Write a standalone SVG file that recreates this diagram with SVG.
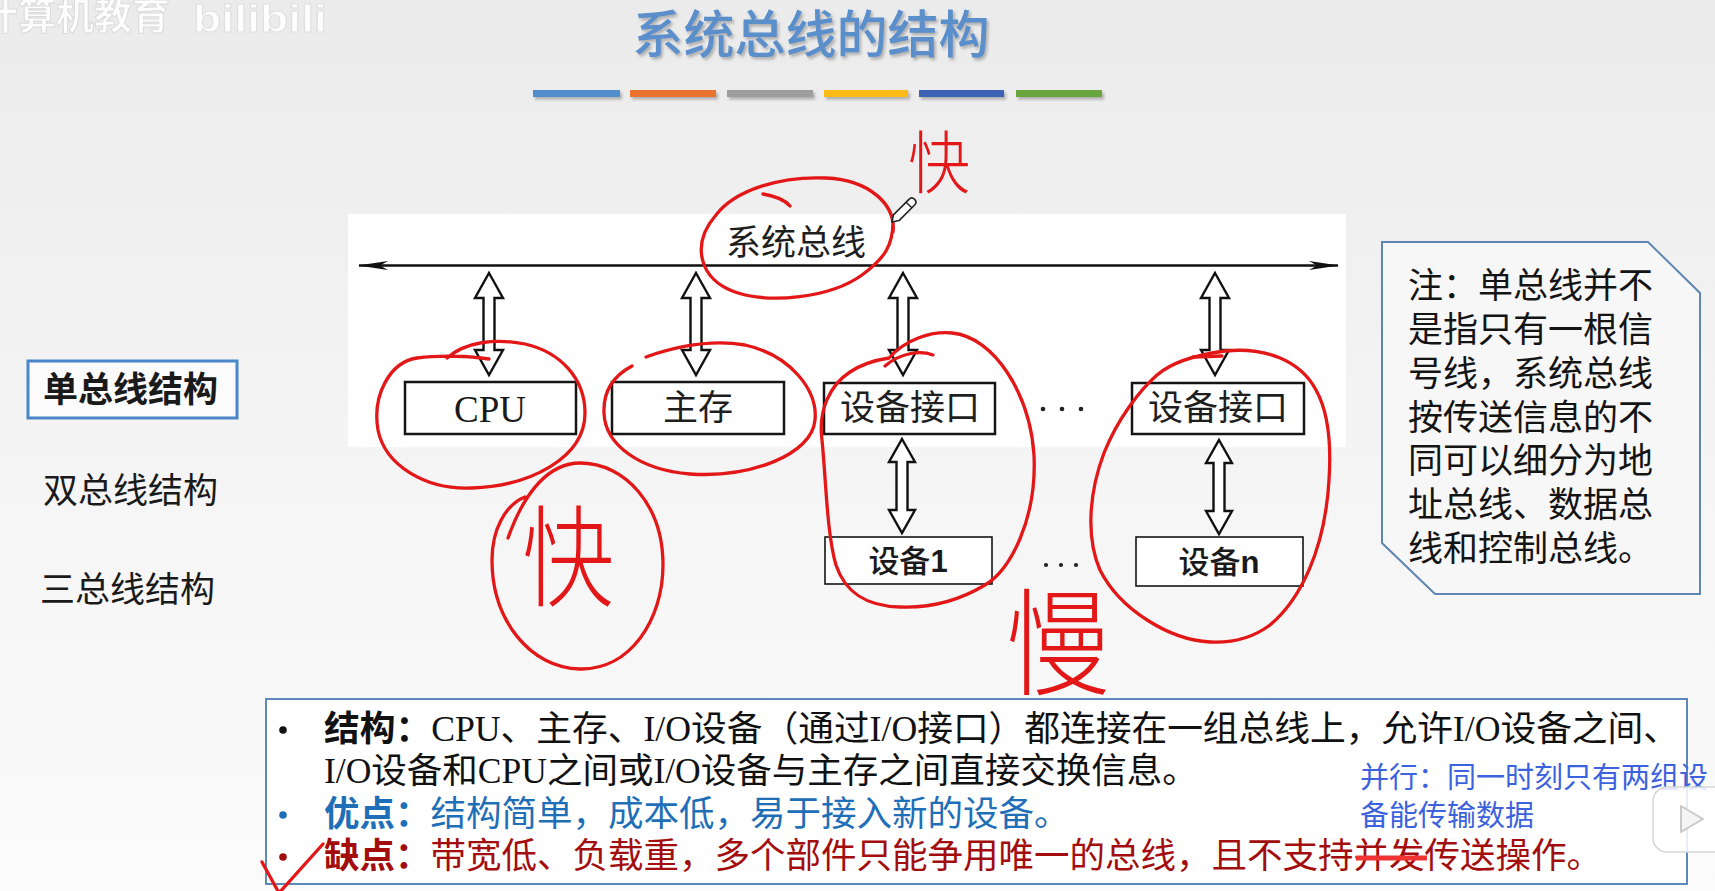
<svg xmlns="http://www.w3.org/2000/svg" xmlns:xlink="http://www.w3.org/1999/xlink" width="1715" height="891" viewBox="0 0 1715 891">
  <defs>
    <linearGradient id="bg" x1="0" y1="0" x2="0" y2="1">
      <stop offset="0" stop-color="#ebebeb"/>
      <stop offset="0.55" stop-color="#f5f5f5"/>
      <stop offset="1" stop-color="#fbfbfb"/>
    </linearGradient>
    <filter id="soft" x="-10%" y="-40%" width="120%" height="200%">
      <feDropShadow dx="2" dy="2.5" stdDeviation="1.5" flood-color="#7a7a7a" flood-opacity="0.55"/>
    </filter>
    <marker id="busHead" viewBox="0 0 30 10" refX="29" refY="5" markerWidth="30" markerHeight="10" markerUnits="userSpaceOnUse" orient="auto-start-reverse">
      <path d="M0,0.6 L30,5 L0,9.4 L8,5 Z" fill="#111"/>
    </marker>
    <!-- hollow two-way arrows, drawn around x = 0 -->
    <polygon id="dblLong" points="0,0 14,25 5.5,25 5.5,77 14,77 0,102 -14,77 -5.5,77 -5.5,25 -14,25"/>
    <polygon id="dblShort" points="0,0 13,23 5.5,23 5.5,71 13,71 0,94 -13,71 -5.5,71 -5.5,23 -13,23"/>
    <style>
      .cjk { font-family: "Noto Sans CJK SC", sans-serif; }
      .box { fill: #ffffff; stroke: #151515; stroke-width: 2.5; }
      .boxThin { fill: #ffffff; stroke: #151515; stroke-width: 1.6; }
      .dbl { fill: #ffffff; stroke: #111111; stroke-width: 2.4; stroke-linejoin: miter; }
      .lbl { font-family: "Noto Sans CJK SC", sans-serif; font-size: 35px; fill: #1e1e1e; text-anchor: middle; }
      .ink { fill: none; stroke: #e31717; stroke-width: 3.3; stroke-linecap: round; stroke-linejoin: round; }
      .inkText { font-family: "Noto Sans CJK SC", sans-serif; font-weight: 300; fill: #e31717; }
      .menu { font-family: "Noto Sans CJK SC", sans-serif; font-size: 35px; fill: #1a1a1a; }
      .note { font-family: "Noto Sans CJK SC", sans-serif; font-size: 35px; fill: #141414; }
      .body { font-family: "Liberation Serif", "Noto Sans CJK SC", serif; font-size: 35.5px; }
    </style>
  </defs>

  <!-- page background -->
  <rect x="0" y="0" width="1715" height="891" fill="url(#bg)"/>

  <!-- channel watermark -->
  <g id="watermark" opacity="0.9">
    <text x="-20" y="29" class="cjk" font-size="38" font-weight="700" fill="#ffffff" stroke="#d9d9d9" stroke-width="1">计算机教育</text>
    <text x="193" y="32" font-family="Liberation Sans, sans-serif" font-size="38" font-weight="700" fill="#ffffff" stroke="#dedede" stroke-width="1" textLength="134" lengthAdjust="spacingAndGlyphs">bilibili</text>
  </g>

  <!-- heading -->
  <g id="title">
    <text x="811" y="53" class="cjk" font-size="51" font-weight="500" fill="#5a8fcb" text-anchor="middle" filter="url(#soft)">系统总线的结构</text>
    <g filter="url(#soft)">
      <rect x="533" y="90" width="87" height="7" fill="#4f8dcc"/>
      <rect x="630" y="90" width="86" height="7" fill="#e8722f"/>
      <rect x="727" y="90" width="86" height="7" fill="#9d9d9d"/>
      <rect x="824" y="90" width="84" height="7" fill="#fcbb12"/>
      <rect x="919" y="90" width="85" height="7" fill="#3b63b5"/>
      <rect x="1016" y="90" width="86" height="7" fill="#67a63d"/>
    </g>
  </g>

  <!-- left navigation -->
  <g id="nav-single">
    <rect x="28" y="361" width="209" height="57" fill="#fbfbfb" stroke="#4a86c8" stroke-width="3"/>
    <text x="43" y="402" class="menu" font-weight="700">单总线结构</text>
  </g>
  <g id="nav-double">
    <text x="43" y="503" class="menu">双总线结构</text>
  </g>
  <g id="nav-triple">
    <text x="40" y="602" class="menu">三总线结构</text>
  </g>

  <!-- diagram panel -->
  <rect x="348" y="214" width="998" height="233" fill="#ffffff"/>

  <g id="bus">
    <line x1="359" y1="265.5" x2="1338" y2="265.5" stroke="#111" stroke-width="2.4" marker-start="url(#busHead)" marker-end="url(#busHead)"/>
    <text x="796" y="255" class="lbl">系统总线</text>
  </g>

  <g id="connectors">
    <use xlink:href="#dblLong" href="#dblLong" x="489" y="273" class="dbl"/>
    <use xlink:href="#dblLong" href="#dblLong" x="696" y="273" class="dbl"/>
    <use xlink:href="#dblLong" href="#dblLong" x="903" y="273" class="dbl"/>
    <use xlink:href="#dblLong" href="#dblLong" x="1215" y="273" class="dbl"/>
    <use xlink:href="#dblShort" href="#dblShort" x="902" y="439" class="dbl"/>
    <use xlink:href="#dblShort" href="#dblShort" x="1219" y="440" class="dbl"/>
  </g>

  <g id="cpu">
    <rect x="405" y="382" width="171" height="52" class="box"/>
    <text x="490" y="422" font-family="Liberation Serif, serif" font-size="37" fill="#1a1a1a" text-anchor="middle">CPU</text>
  </g>
  <g id="memory">
    <rect x="612" y="382" width="172" height="52" class="box"/>
    <text x="698" y="420" class="lbl">主存</text>
  </g>
  <g id="interface-1">
    <rect x="824" y="383" width="171" height="51" class="box"/>
    <text x="910" y="420" class="lbl">设备接口</text>
  </g>
  <g id="interface-n">
    <rect x="1132" y="383" width="172" height="51" class="box"/>
    <text x="1218" y="420" class="lbl">设备接口</text>
  </g>
  <g id="device-1">
    <rect x="825" y="537" width="167" height="47" class="boxThin"/>
    <text x="908" y="572" class="cjk" font-size="31" font-weight="500" fill="#1a1a1a" text-anchor="middle">设备<tspan font-family="Liberation Sans, sans-serif" font-weight="700">1</tspan></text>
  </g>
  <g id="device-n">
    <rect x="1136" y="537" width="167" height="49" class="boxThin"/>
    <text x="1219" y="573" class="cjk" font-size="31" font-weight="500" fill="#1a1a1a" text-anchor="middle">设备<tspan font-family="Liberation Sans, sans-serif" font-weight="700">n</tspan></text>
  </g>
  <g id="ellipsis">
    <circle cx="1043" cy="409" r="2.3" fill="#222"/>
    <circle cx="1062" cy="409" r="2.3" fill="#222"/>
    <circle cx="1081" cy="409" r="2.3" fill="#222"/>
    <circle cx="1046" cy="565" r="2.1" fill="#222"/>
    <circle cx="1061" cy="565" r="2.1" fill="#222"/>
    <circle cx="1076" cy="565" r="2.1" fill="#222"/>
  </g>

  <!-- side note -->
  <g id="note">
    <path d="M1382,242 L1648,242 L1700,293 L1700,594 L1435,594 L1382,543 Z" fill="#f7f7f7" stroke="#5f86b0" stroke-width="2"/>
    <text x="1408" y="298" class="note">注：单总线并不</text>
    <text x="1408" y="342" class="note">是指只有一根信</text>
    <text x="1408" y="386" class="note">号线，系统总线</text>
    <text x="1408" y="430" class="note">按传送信息的不</text>
    <text x="1408" y="473" class="note">同可以细分为地</text>
    <text x="1408" y="517" class="note">址总线、数据总</text>
    <text x="1408" y="561" class="note">线和控制总线。</text>
  </g>

  <!-- summary box -->
  <g id="summary">
    <rect x="266" y="699" width="1421" height="185" fill="#ffffff" stroke="#5d88ba" stroke-width="2"/>
    <circle cx="283" cy="730" r="3.8" fill="#111"/>
    <circle cx="283" cy="815" r="3.8" fill="#1f6fb8"/>
    <circle cx="283" cy="857" r="3.8" fill="#a30d0d"/>
    <text x="324" y="741" class="body" fill="#111" textLength="1355" lengthAdjust="spacingAndGlyphs"><tspan font-weight="700">结构：</tspan>CPU、主存、I/O设备（通过I/O接口）都连接在一组总线上，允许I/O设备之间、</text>
    <text x="324" y="783" class="body" fill="#111">I/O设备和CPU之间或I/O设备与主存之间直接交换信息。</text>
    <text x="324" y="826" class="body" fill="#1f6fb8"><tspan font-weight="700">优点：</tspan>结构简单，成本低，易于接入新的设备。</text>
    <text x="324" y="868" class="body" fill="#a30d0d"><tspan font-weight="700">缺点：</tspan>带宽低、负载重，多个部件只能争用唯一的总线，且不支持并发传送操作。</text>
    <text x="1360" y="788" class="cjk" font-size="29" fill="#3c62de">并行：同一时刻只有两组设</text>
    <text x="1360" y="826" class="cjk" font-size="29" fill="#3c62de">备能传输数据</text>
  </g>

  <!-- player control at the edge -->
  <g id="play-button">
    <rect x="1653" y="787" width="80" height="65" rx="14" fill="#ffffff" fill-opacity="0.85" stroke="#d6d6d6" stroke-width="1.5"/>
    <path d="M1681,806 L1703,819 L1681,832 Z" fill="#f4f4f4" stroke="#c9c9c9" stroke-width="2" stroke-linejoin="round"/>
  </g>

  <!-- hand-drawn markup -->
  <g id="markup">
    <path class="ink" d="M893,232 C896,205 870,180 826,178 C780,176 735,190 716,215 C690,245 700,280 735,292 C770,304 830,298 862,275 C885,258 893,245 893,222"/>
    <path class="ink" d="M763,194 C775,196 785,200 790,206"/>
    <path class="ink" d="M489,359 C470,356 440,355 417,358 C390,362 372,395 378,430 C385,465 425,490 472,488 C530,486 585,458 585,413 C585,378 560,352 525,344 C495,338 465,342 447,358"/>
    <path class="ink" d="M646,357 C680,345 715,340 745,345 C790,355 818,390 815,420 C812,455 750,478 690,474 C640,470 605,445 604,413 C603,390 615,375 632,366"/>
    <path class="ink" d="M889,358 C905,340 930,331 952,333 C995,337 1030,395 1034,455 C1037,520 1010,570 985,585 C955,603 925,608 900,607 C865,606 845,592 836,565 C827,535 826,480 822,440 C818,410 830,385 850,372 C862,364 876,360 889,358"/>
    <path class="ink" d="M885,366 C900,353 920,350 933,355"/>
    <path class="ink" d="M1157,375 C1172,362 1195,355 1225,351 C1265,347 1300,360 1316,390 C1330,415 1331,450 1329,480 C1325,550 1300,600 1270,625 C1250,640 1230,643 1210,642 C1170,640 1120,610 1100,570 C1085,535 1090,490 1104,453 C1118,418 1140,390 1157,375"/>
    <path class="ink" d="M1193,357 L1222,356" stroke-width="4.5"/>
    <path class="ink" d="M525,497 C505,505 492,530 492,560 C492,620 530,668 580,669 C630,670 663,620 663,565 C663,505 625,463 580,463 C550,463 525,490 508,538" stroke-width="2.6"/>
    <text x="908" y="188" class="inkText" font-size="68" textLength="62" lengthAdjust="spacingAndGlyphs">快</text>
    <text x="522" y="598" class="inkText" font-size="110" textLength="92" lengthAdjust="spacingAndGlyphs">快</text>
    <text x="1006" y="686" class="inkText" font-size="116" textLength="104" lengthAdjust="spacingAndGlyphs">慢</text>
    <path class="ink" d="M262,862 L279,893 L323,844" stroke-width="3.2"/>
    <line x1="1356" y1="858" x2="1427" y2="858" stroke="#f03434" stroke-width="5"/>
  </g>

  <!-- pen cursor -->
  <g id="pen" transform="translate(892,222) rotate(-45)">
    <path d="M0,0 L6,-4 L28,-4 Q32,-4 32,0 Q32,4 28,4 L6,4 Z" fill="#ffffff" stroke="#222" stroke-width="1.6" stroke-linejoin="round"/>
    <line x1="24" y1="-4" x2="24" y2="4" stroke="#222" stroke-width="1.4"/>
  </g>
</svg>
